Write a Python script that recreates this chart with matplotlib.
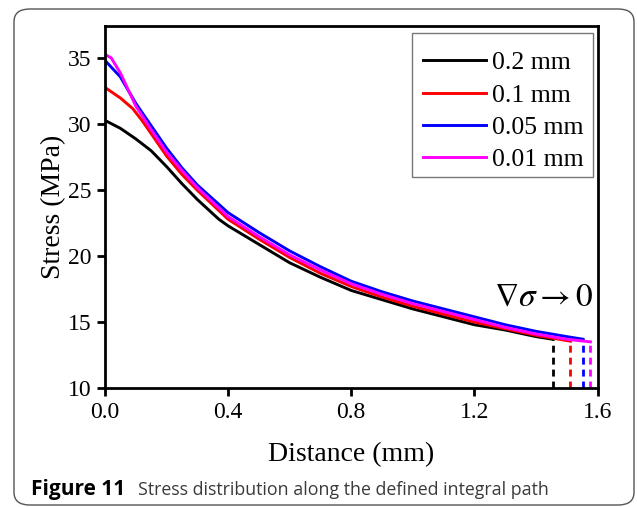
import numpy as np
import matplotlib
matplotlib.use("Agg")
import matplotlib.pyplot as plt
from matplotlib.patches import FancyBboxPatch, Rectangle

plt.rcParams['font.family'] = ['Liberation Serif', 'DejaVu Serif']
plt.rcParams['mathtext.fontset'] = 'stix'

# %% Data
labels = ["0.2 mm", "0.1 mm", "0.05 mm", "0.01 mm"]
colors = ["black", "red", "blue", "magenta"]

x_02 = [0, 0.05, 0.1, 0.15, 0.2, 0.25, 0.3, 0.37, 0.4, 0.5, 0.6, 0.7, 0.8, 0.9, 1.0, 1.1, 1.2, 1.3, 1.4, 1.454]
y_02 = [30.3, 29.7, 28.9, 28.0, 26.8, 25.5, 24.3, 22.8, 22.3, 20.9, 19.5, 18.4, 17.4, 16.7, 16.0, 15.4, 14.8, 14.4, 13.9, 13.7]

x_01 = [0, 0.05, 0.09, 0.12, 0.15, 0.2, 0.25, 0.3, 0.4, 0.5, 0.6, 0.7, 0.8, 0.9, 1.0, 1.1, 1.2, 1.3, 1.4, 1.5, 1.512]
y_01 = [32.8, 32.0, 31.2, 30.3, 29.3, 27.6, 26.2, 25.0, 22.8, 21.3, 19.9, 18.7, 17.7, 16.9, 16.2, 15.6, 15.0, 14.5, 14.0, 13.6, 13.55]

x_005 = [0, 0.05, 0.1, 0.15, 0.2, 0.25, 0.3, 0.4, 0.5, 0.6, 0.7, 0.8, 0.9, 1.0, 1.1, 1.2, 1.3, 1.4, 1.5, 1.553]
y_005 = [34.85, 33.6, 31.6, 29.9, 28.2, 26.7, 25.4, 23.3, 21.8, 20.4, 19.2, 18.1, 17.3, 16.6, 16.0, 15.4, 14.8, 14.3, 13.9, 13.7]

x_001 = [0, 0.02, 0.05, 0.1, 0.15, 0.2, 0.25, 0.3, 0.4, 0.5, 0.6, 0.7, 0.8, 0.9, 1.0, 1.1, 1.2, 1.3, 1.4, 1.5, 1.577]
y_001 = [35.3, 35.05, 33.9, 31.4, 29.6, 27.9, 26.5, 25.2, 23.0, 21.5, 20.1, 18.95, 17.9, 17.1, 16.4, 15.8, 15.2, 14.6, 14.1, 13.7, 13.5]

xs = [x_02, x_01, x_005, x_001]
ys = [y_02, y_01, y_005, y_001]

x_ticks = [0.0, 0.4, 0.8, 1.2, 1.6]
y_ticks = [10, 15, 20, 25, 30, 35]

# %% Figure
fig = plt.figure(figsize=(6.37, 5.07), dpi=100)
ax = fig.add_axes([0.1648, 0.2347, 0.7732, 0.715])

for x, y, c, lab in zip(xs, ys, colors, labels):
    ax.plot(x, y, color=c, lw=2.1, label=lab)
    ax.vlines(x[-1], 10, y[-1], colors=c, linestyles=(0, (2.5, 1.8)), lw=2.0)

ax.set_xlim(0, 1.6)
ax.set_ylim(10, 37.5)
ax.set_xticks(x_ticks)
ax.set_xticklabels([f"{t:.1f}" for t in x_ticks])
ax.set_yticks(y_ticks)
ax.tick_params(direction='out', length=6, width=2, labelsize=17, pad=4)
for s in ax.spines.values():
    s.set_linewidth(2)

ax.set_xlabel("Distance (mm)", fontsize=20, labelpad=14)
ax.set_ylabel("Stress (MPa)", fontsize=20, labelpad=1)

ax.text(1.587, 16.9, r"$\nabla\sigma\rightarrow0$", fontsize=24, ha='right', va='center')

# legend without its own frame; the box is drawn separately to match the original padding
leg = ax.legend(loc='upper right', bbox_to_anchor=(0.983, 0.979), borderaxespad=0,
                fontsize=18.5, frameon=False, handlelength=2.45,
                handletextpad=0.25, labelspacing=0.36, borderpad=0.2,
                title=" ", title_fontsize=3.5)
ax.add_patch(Rectangle((0.6234, 0.5829), 0.368, 0.3956, transform=ax.transAxes,
                       fill=False, edgecolor='#777777', lw=1.0, zorder=5))

# caption and rounded frame
box = FancyBboxPatch((14 / 637, 2 / 507), 620 / 637, 496 / 507,
                     boxstyle="round,pad=0,rounding_size=0.025",
                     transform=fig.transFigure, fill=False, edgecolor='#555555', lw=1.0)
fig.patches.append(box)

fig.text(31 / 637, 1 - 490 / 507, "Figure 11", fontsize=15, fontweight='bold',
         family='Open Sans', va='center', ha='left', color='black')
fig.text(138 / 637, 1 - 490 / 507, "Stress distribution along the defined integral path",
         fontsize=12.8, family='Open Sans', va='center', ha='left', color='#3a3a3a')

fig.savefig("out.png", dpi=100)
